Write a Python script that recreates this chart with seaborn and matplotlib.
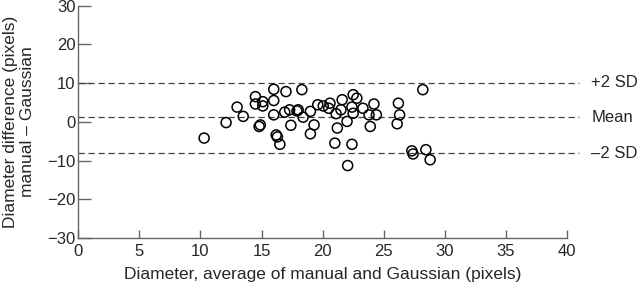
import numpy as np
import pandas as pd
import matplotlib
matplotlib.use("Agg")
import matplotlib.pyplot as plt
import seaborn as sns

# average diameter (x) and manual - Gaussian difference (y)
avg_diameter = [10.3, 12.1, 13.0, 13.5, 14.5, 14.5, 15.1, 15.1, 14.9, 14.8,
                16.0, 16.0, 16.0, 16.2, 16.3, 16.5, 17.0, 18.3, 16.9, 17.3,
                17.9, 18.0, 18.4, 19.0, 17.4, 19.3, 19.0, 19.6, 20.05, 20.5,
                20.6, 21.1, 21.5, 21.6, 22.5, 22.8, 22.4, 22.5, 22.0, 21.2,
                21.0, 22.4, 22.05, 23.3, 24.2, 23.8, 24.4, 23.9, 26.2, 26.3,
                26.1, 28.2, 27.3, 27.4, 28.45, 28.8]
difference = [-4.2, -0.2, 3.8, 1.4, 6.5, 4.6, 5.2, 4.1, -0.8, -1.2,
              8.4, 5.5, 1.8, -3.4, -3.9, -5.8, 7.8, 8.3, 2.5, 3.1,
              2.8, 3.1, 1.2, 2.7, -0.9, -0.8, -3.1, 4.4, 4.1, 3.5,
              4.8, 2.1, 3.1, 5.7, 7.0, 6.1, 3.8, 2.2, 0.1, -1.6,
              -5.5, -5.8, -11.3, 3.5, 4.6, 1.8, 1.8, -1.2, 4.8, 1.8,
              -0.5, 8.3, -7.5, -8.3, -7.2, -9.8]

ref_labels = ["+2 SD", "Mean", "\u20132 SD"]
ref_values = [10.1, 1.2, -8.1]

x_ticks = [0, 5, 10, 15, 20, 25, 30, 35, 40]
y_ticks = [-30, -20, -10, 0, 10, 20, 30]

df = pd.DataFrame({"avg": avg_diameter, "diff": difference})

sns.set_style("white")
plt.rcParams["font.family"] = ["Liberation Sans", "DejaVu Sans"]

fig = plt.figure(figsize=(6.4, 2.89), dpi=100)
ax = fig.add_axes([0.1223, 0.1765, 0.7636, 0.804])

# limits of agreement and mean
for lab, val in zip(ref_labels, ref_values):
    ax.plot([0, 41], [val, val], color="#444444", lw=0.9,
            dashes=(5, 3), clip_on=False, zorder=1)
    ax.text(42.0, val, lab, fontsize=12, va="center", ha="left")

sns.scatterplot(data=df, x="avg", y="diff", ax=ax, marker="o", s=52,
                facecolor="none", edgecolor="black", linewidth=1.1, zorder=3)

ax.set_xlim(0, 40)
ax.set_ylim(-30, 30)
ax.set_xticks(x_ticks)
ax.set_yticks(y_ticks)

for side in ["top", "right"]:
    ax.spines[side].set_visible(False)
for side in ["left", "bottom"]:
    ax.spines[side].set_color("#666666")
    ax.spines[side].set_linewidth(1.0)

ax.tick_params(axis="y", direction="in", length=9, width=1.0,
               color="#666666", labelsize=12, pad=2)
ax.tick_params(axis="x", direction="in", length=6, width=1.0,
               color="#666666", labelsize=12, pad=4)
ax.tick_params(left=True, bottom=True)

ax.set_xlabel("Diameter, average of manual and Gaussian (pixels)",
              fontsize=12.5, labelpad=6)
ax.set_ylabel("Diameter difference (pixels)\nmanual \u2013 Gaussian",
              fontsize=12.5, labelpad=9, linespacing=1.15)

fig.savefig("out.png", dpi=100)
